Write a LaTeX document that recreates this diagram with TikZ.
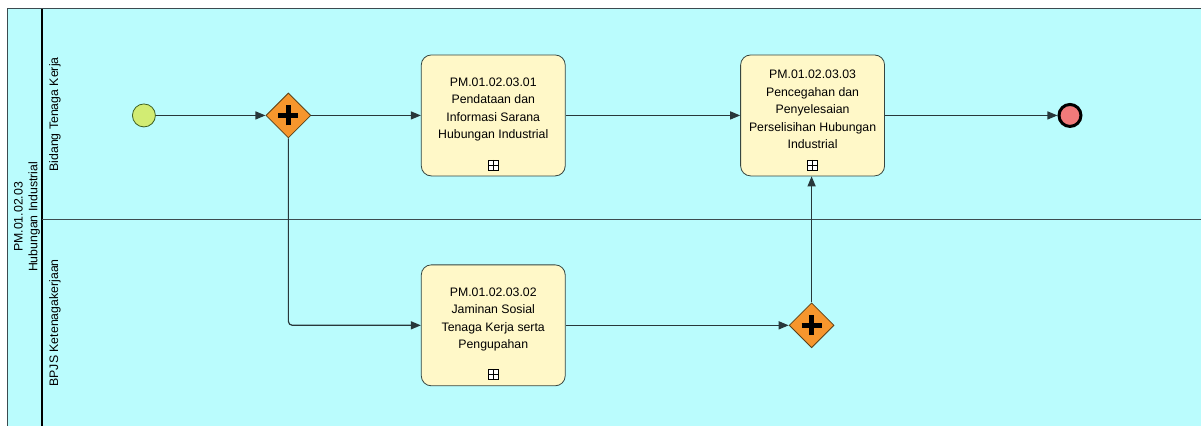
\documentclass[tikz,border=0pt]{standalone}
\usepackage{fontspec}
\setmainfont{Liberation Sans}
\usetikzlibrary{arrows.meta, positioning, shapes.geometric}
\definecolor{poolcol}{RGB}{186,252,253}
\definecolor{poolborder}{RGB}{60,75,80}
\definecolor{taskcol}{RGB}{255,248,200}
\definecolor{taskborder}{RGB}{55,70,65}
\definecolor{startcol}{RGB}{210,236,115}
\definecolor{startborder}{RGB}{60,95,35}
\definecolor{endcol}{RGB}{240,122,122}
\definecolor{gwcol}{RGB}{246,150,45}
\definecolor{gwborder}{RGB}{90,65,25}
\definecolor{flowcol}{RGB}{40,55,58}

\begin{document}
\begin{tikzpicture}[
                        x=1pt, y=-1pt,
                        font=\fontsize{12.3}{17.5}\selectfont,
                        >={Triangle[length=10pt, width=8pt]},
                        task/.style={
                                rectangle, rounded corners=10pt,
                                draw=taskborder, thick, fill=taskcol,
                                minimum width=144pt, minimum height=121pt
                            },
                        tasktext/.style={align=center, inner sep=0pt},
                        marker/.style={
                                rectangle, draw=black, thick, fill=white,
                                minimum size=10pt, inner sep=0pt,
                                path picture={
                                        \draw[black] (path picture bounding box.north) -- (path picture bounding box.south);
                                        \draw[black] (path picture bounding box.west) -- (path picture bounding box.east);
                                    }
                            },
                        gateway/.style={
                                diamond, aspect=1, draw=gwborder, thick, fill=gwcol,
                                minimum size=45pt, inner sep=0pt,
                                path picture={
                                        \draw[black, line width=5.5pt] ([xshift=-10pt]path picture bounding box.center) -- ([xshift=10pt]path picture bounding box.center);
                                        \draw[black, line width=5.5pt] ([yshift=-10pt]path picture bounding box.center) -- ([yshift=10pt]path picture bounding box.center);
                                    }
                            },
                        startev/.style={circle, draw=startborder, thick, fill=startcol, minimum size=23pt, inner sep=0pt},
                        endev/.style={circle, draw=black, line width=3pt, fill=endcol, minimum size=22pt, inner sep=0pt},
                        lanelabel/.style={rotate=90, align=center, font=\fontsize{12.3}{15}\selectfont},
                        flow/.style={->, draw=flowcol, line width=1.2pt}
                    ]

                    % ===== Pool and Lanes =====
                    \fill[white] (0,0) rectangle (1202,426);
                    \fill[poolcol] (8,9) rectangle (1202,426);
                    \draw[poolborder, line width=1pt] (8,426) -- (8,9) -- (1202,9);
                    \draw[black, line width=2.5pt] (42,9) -- (42,426);
                    \draw[poolborder, line width=1.2pt] (42,220) -- (1202,220);

                    \node[lanelabel] (pool) at (27,217) {PM.01.02.03\\Hubungan Industrial};
                    \node[lanelabel] (lanebidang) at (55,114.5) {Bidang Tenaga Kerja};
                    \node[lanelabel] (lanebpjs) at (55,323) {BPJS Ketenagakerjaan};

                    % ===== Events and Gateways =====
                    \node[startev] (start) at (144,115.5) {};
                    \node[gateway] (split) at (288.5,115.5) {};
                    \node[gateway] (join) at (812,325.5) {};
                    \node[endev] (finish) at (1070.5,115.5) {};

                    % ===== Tasks =====
                    \node[task] (pendataan) at (493.5,115.5) {};
                    \node[tasktext] (pendataantext) at ([yshift=6pt]pendataan.center) {PM.01.02.03.01\\Pendataan dan\\Informasi Sarana\\Hubungan Industrial};
                    \node[marker, above=6pt of pendataan.south] (pendataanmark) {};

                    \node[task] (jaminan) at (493.5,325.5) {};
                    \node[tasktext] (jaminantext) at ([yshift=6pt]jaminan.center) {PM.01.02.03.02\\Jaminan Sosial\\Tenaga Kerja serta\\Pengupahan};
                    \node[marker, above=6pt of jaminan.south] (jaminanmark) {};

                    \node[task] (pencegahan) at (813,115.5) {};
                    \node[tasktext] (pencegahantext) at ([yshift=6pt]pencegahan.center) {PM.01.02.03.03\\Pencegahan dan\\Penyelesaian\\Perselisihan Hubungan\\Industrial};
                    \node[marker, above=6pt of pencegahan.south] (pencegahanmark) {};

                    % ===== Sequence Flows =====
                    \draw[flow] (start) -- (split);
                    \draw[flow] (split) -- (pendataan);
                    \draw[flow] (pendataan) -- (pencegahan);
                    \draw[flow] (pencegahan) -- (finish);
                    \draw[flow, rounded corners=4pt] (split.south) |- (jaminan.west);
                    \draw[flow] (jaminan) -- (join);
                    \draw[flow] (join.north) -- (join.north |- pencegahan.south);

                \end{tikzpicture}
\end{document}
